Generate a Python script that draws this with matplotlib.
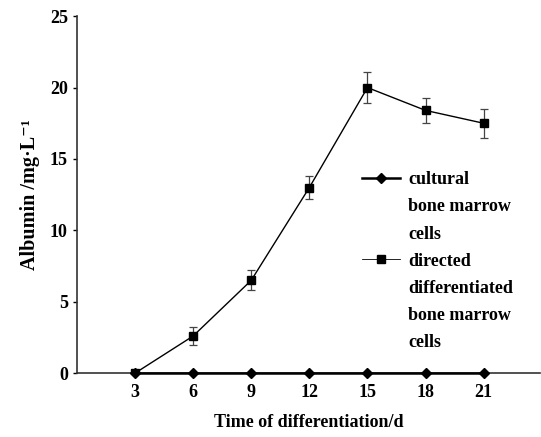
import matplotlib
matplotlib.use("Agg")
import matplotlib.pyplot as plt
from matplotlib.lines import Line2D

days = [3, 6, 9, 12, 15, 18, 21]
cultural = [0, 0, 0, 0, 0, 0, 0]
directed = [0, 2.6, 6.5, 13.0, 20.0, 18.4, 17.5]
directed_err = [0, 0.6, 0.7, 0.8, 1.1, 0.85, 1.0]
yticks = [0, 5, 10, 15, 20, 25]
legend_labels = ['cultural\nbone marrow\ncells',
                 'directed\ndifferentiated\nbone marrow\ncells']

plt.rcParams['font.family'] = ['Liberation Serif', 'DejaVu Serif']
plt.rcParams['font.weight'] = 'bold'

fig = plt.figure(figsize=(5.41, 4.37), dpi=100)
ax = fig.add_axes([0.142, 0.146, 0.856, 0.817])

ax.errorbar(days, directed, yerr=directed_err, color='black', lw=1.0,
            marker='s', ms=6, capsize=3, elinewidth=0.9, capthick=0.9,
            ecolor='#444444', zorder=3)
ax.plot(days, cultural, color='black', lw=1.8, marker='D', ms=5,
        zorder=4, clip_on=False)

ax.set_xlim(0, 23.9)
ax.set_ylim(0, 25)
ax.set_xticks(days)
ax.set_yticks(yticks)
ax.tick_params(axis='both', labelsize=13, length=3, width=1)
ax.tick_params(axis='x', length=0, pad=8)
for lab in ax.get_xticklabels() + ax.get_yticklabels():
    lab.set_fontweight('bold')

ax.spines['top'].set_visible(False)
ax.spines['right'].set_visible(False)
for s in ['left', 'bottom']:
    ax.spines[s].set_linewidth(1.2)
    ax.spines[s].set_color('#333333')

ax.set_xlabel('Time of differentiation/d', fontsize=13, fontweight='bold', labelpad=9)
ax.set_ylabel('Albumin /mg·L⁻¹', fontsize=14.5, fontweight='bold', labelpad=7)

handles = [Line2D([], [], color='black', lw=1.8, marker='D', ms=5),
           Line2D([], [], color='black', lw=0.6, marker='s', ms=6)]
leg = fig.legend(handles, legend_labels, loc='upper left',
                 bbox_to_anchor=(0.669, 0.608), bbox_transform=fig.transFigure,
                 frameon=False, fontsize=13, borderpad=0, borderaxespad=0,
                 handlelength=2.1, handletextpad=0.45, labelspacing=0.55)
for t in leg.get_texts():
    t.set_linespacing(1.78)
    t.set_fontweight('bold')
for col in leg._legend_handle_box.get_children():
    for row in col.get_children():
        row.align = 'top'

fig.savefig('out.png', dpi=100)
